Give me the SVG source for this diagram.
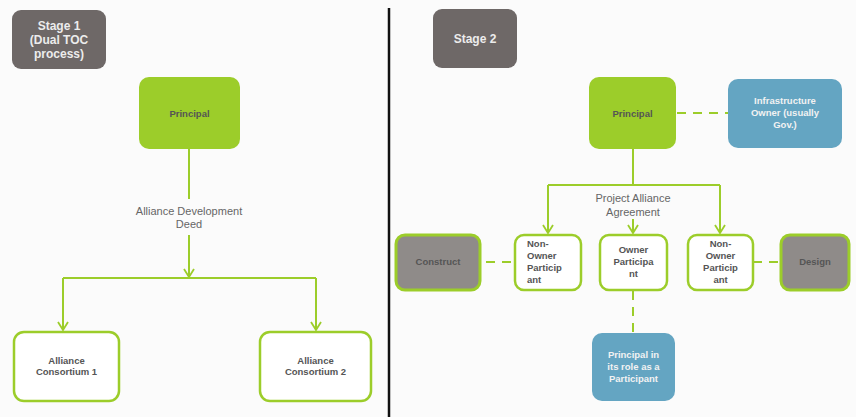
<svg xmlns="http://www.w3.org/2000/svg" width="856" height="417" viewBox="0 0 856 417">
<defs>
<marker id="arr" viewBox="0 0 10 12" refX="9" refY="6" markerWidth="10" markerHeight="12" markerUnits="userSpaceOnUse" orient="auto">
<path d="M1,1 L9,6 L1,11" fill="none" stroke="#9ccd2a" stroke-width="1.8"/>
</marker>
<style>
.bg{fill:#fbfbfb}
.stage{fill:#6e6867}
.stxt{font-family:"Liberation Sans",Arial,sans-serif;font-weight:bold;font-size:12px;fill:#ececec;text-anchor:middle}
.green{fill:#9ccd2a}
.white{fill:#ffffff;stroke:#9ccd2a;stroke-width:2.5}
.grayg{fill:#8f8b89;stroke:#9ccd2a;stroke-width:3}
.blue{fill:#64a5c2}
.ntxt{font-family:"Liberation Sans",Arial,sans-serif;font-weight:bold;font-size:9.5px;fill:#555;text-anchor:middle}
.ltx{text-anchor:start}
.wtxt{font-family:"Liberation Sans",Arial,sans-serif;font-weight:bold;font-size:9.5px;fill:#f2f2f2;text-anchor:middle}
.ltxt{font-family:"Liberation Sans",Arial,sans-serif;font-size:11px;fill:#666;text-anchor:middle}
.ln{fill:none;stroke:#9ccd2a;stroke-width:2}
.dash{fill:none;stroke:#9ccd2a;stroke-width:2;stroke-dasharray:9,7}
</style>
</defs>
<rect class="bg" x="0" y="0" width="856" height="417"/>
<line x1="389" y1="8" x2="389" y2="417" stroke="#111" stroke-width="2.5"/>

<g id="connectors">
<line class="ln" x1="189" y1="149" x2="189" y2="199"/>
<path class="ln" d="M189,235 L189,277" marker-end="url(#arr)"/>
<path class="ln" d="M63,278 L316,278"/>
<path class="ln" d="M63,278 L63,330" marker-end="url(#arr)"/>
<path class="ln" d="M316,278 L316,330" marker-end="url(#arr)"/>
<line class="dash" x1="677" y1="113" x2="728" y2="113"/>
<line class="ln" x1="633" y1="149" x2="633" y2="185"/>
<path class="ln" d="M548,185 L720,185"/>
<path class="ln" d="M548,185 L548,233" marker-end="url(#arr)"/>
<path class="ln" d="M720,185 L720,233" marker-end="url(#arr)"/>
<path class="ln" d="M633,219 L633,233" marker-end="url(#arr)"/>
<line class="dash" x1="486" y1="262" x2="514" y2="262" stroke-dasharray="8,6"/>
<line class="dash" x1="753" y1="262" x2="780" y2="262" stroke-dasharray="8,6"/>
<line class="dash" x1="633" y1="291" x2="633" y2="333"/>
<text class="ltxt" x="189" y="215">Alliance Development</text>
<text class="ltxt" x="189" y="228">Deed</text>
<text class="ltxt" x="633" y="202">Project Alliance</text>
<text class="ltxt" x="633" y="216">Agreement</text>
</g>

<g id="stage1">
<rect class="stage" x="12" y="10" width="94" height="59" rx="9"/>
<text class="stxt" x="59" y="30">Stage 1</text>
<text class="stxt" x="59" y="44">(Dual TOC</text>
<text class="stxt" x="59" y="58">process)</text>
</g>
<g id="principal1">
<rect class="green" x="139" y="77" width="101" height="72" rx="10"/>
<text class="ntxt" x="189.5" y="117">Principal</text>
</g>
<g id="consortium1">
<rect class="white" x="14" y="332" width="105" height="69" rx="10"/>
<text class="ntxt" x="66.5" y="364">Alliance</text>
<text class="ntxt" x="66.5" y="375">Consortium 1</text>
</g>
<g id="consortium2">
<rect class="white" x="260" y="332" width="111" height="69" rx="10"/>
<text class="ntxt" x="315.5" y="364">Alliance</text>
<text class="ntxt" x="315.5" y="375">Consortium 2</text>
</g>

<g id="stage2">
<rect class="stage" x="433" y="9" width="84" height="59" rx="9"/>
<text class="stxt" x="475" y="43">Stage 2</text>
</g>
<g id="principal2">
<rect class="green" x="589" y="77" width="87" height="72" rx="10"/>
<text class="ntxt" x="632.5" y="117">Principal</text>
</g>
<g id="infraowner">
<rect class="blue" x="728" y="79" width="114" height="69" rx="10"/>
<text class="wtxt" x="785" y="104">Infrastructure</text>
<text class="wtxt" x="785" y="116">Owner (usually</text>
<text class="wtxt" x="785" y="128">Gov.)</text>
</g>
<g id="construct">
<rect class="grayg" x="396" y="235" width="84" height="55" rx="9"/>
<text class="ntxt" x="438" y="265">Construct</text>
</g>
<g id="nonowner1">
<rect class="white" x="515" y="235" width="66" height="55" rx="9"/>
<text class="ntxt ltx" x="527" y="247">Non-</text>
<text class="ntxt ltx" x="527" y="259">Owner</text>
<text class="ntxt ltx" x="527" y="271">Particip</text>
<text class="ntxt ltx" x="527" y="283">ant</text>
</g>
<g id="ownerpart">
<rect class="white" x="600" y="235" width="67" height="55" rx="9"/>
<text class="ntxt" x="633.5" y="253">Owner</text>
<text class="ntxt" x="633.5" y="265">Participa</text>
<text class="ntxt" x="633.5" y="277">nt</text>
</g>
<g id="nonowner2">
<rect class="white" x="688" y="235" width="65" height="55" rx="9"/>
<text class="ntxt" x="720.5" y="247">Non-</text>
<text class="ntxt" x="720.5" y="259">Owner</text>
<text class="ntxt" x="720.5" y="271">Particip</text>
<text class="ntxt" x="720.5" y="283">ant</text>
</g>
<g id="design">
<rect class="grayg" x="781" y="235" width="68" height="55" rx="9"/>
<text class="ntxt" x="815" y="265">Design</text>
</g>
<g id="principalrole">
<rect class="blue" x="592" y="333" width="83" height="68" rx="10"/>
<text class="wtxt" x="633.5" y="358">Principal in</text>
<text class="wtxt" x="633.5" y="370">its role as a</text>
<text class="wtxt" x="633.5" y="382">Participant</text>
</g>
</svg>
